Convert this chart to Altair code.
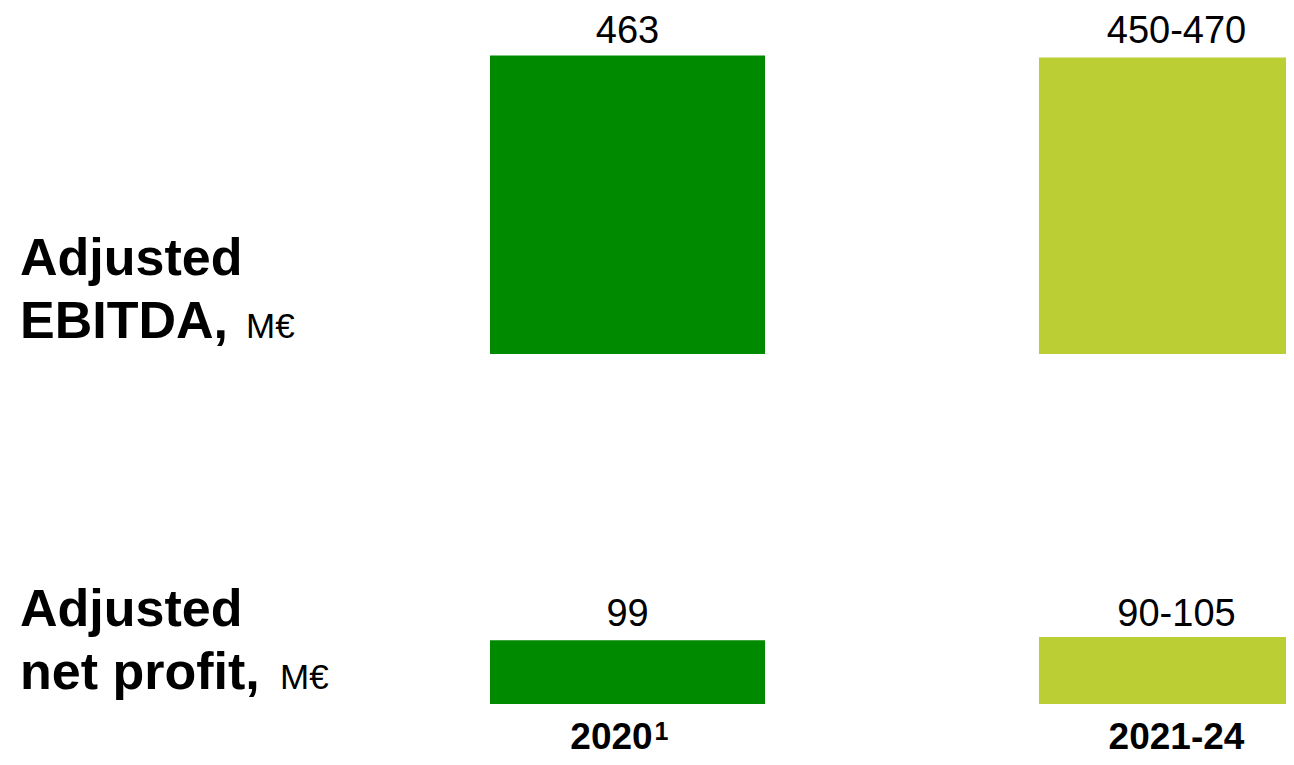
import altair as alt
import pandas as pd

# ---- data ----
periods = ["2020", "2021-24"]
footnotes = ["1", ""]
ebitda_values = [463, 460]
ebitda_labels = ["463", "450-470"]
profit_values = [99, 104]
profit_labels = ["99", "90-105"]
colors = ["#008A00", "#BBCE34"]
ebitda_title = ["Adjusted", "EBITDA,"]
profit_title = ["Adjusted", "net profit,"]
unit = "M€"

FONT = "Liberation Sans"
PX = 298.5 / 463.0          # pixels per M€ (shared by both rows)
W = 1278
H1 = 346
H2 = 403
BASE2 = 350                  # bottom row: bar baseline distance from the row top

x_scale = alt.Scale(domain=periods, range=[482, 1306], paddingInner=0.499, paddingOuter=0)
color_scale = alt.Scale(domain=periods, range=colors)


def text_layer(txt, size, weight, x, y):
    return alt.Chart(pd.DataFrame({"t": [txt]})).mark_text(
        font=FONT, fontSize=size, fontWeight=weight, color="black", align="left", baseline="alphabetic"
    ).encode(text="t:N", x=alt.value(x), y=alt.value(y))


def row(values, labels, title, H, y_domain, dy_val, title_y, unit_x, show_years):
    df = pd.DataFrame({"period": periods, "value": values, "label": labels, "note": footnotes})
    y_scale = alt.Scale(domain=y_domain, nice=False, zero=False)
    base = alt.Chart(df).encode(x=alt.X("period:N", scale=x_scale, sort=periods, axis=None))
    bars = base.mark_bar(clip=True).encode(
        y=alt.Y("value:Q", scale=y_scale, axis=None),
        y2=alt.datum(0),
        color=alt.Color("period:N", scale=color_scale, legend=None),
    )
    vals = base.transform_joinaggregate(top="max(value)").mark_text(
        font=FONT, fontSize=38, color="black", baseline="alphabetic", dy=dy_val
    ).encode(y=alt.Y("top:Q", scale=y_scale, axis=None), text="label:N")

    layers = [bars, vals,
              text_layer(title[0], 52, "bold", 12, title_y[0]),
              text_layer(title[1], 52, "bold", 12, title_y[1]),
              text_layer(unit, 35, "normal", unit_x, title_y[1])]

    if show_years:
        year_style = dict(font=FONT, fontSize=37, fontWeight="bold", color="black",
                          baseline="alphabetic")
        plain = base.transform_filter("datum.note == ''").mark_text(**year_style).encode(
            text="period:N", y=alt.value(H - 8))
        noted = base.transform_filter("datum.note != ''").mark_text(dx=-16, **year_style).encode(
            text="period:N", y=alt.value(H - 8))
        sup = base.transform_filter("datum.note != ''").mark_text(
            font=FONT, fontSize=25, fontWeight="bold", color="black", baseline="alphabetic",
            align="left", dx=27, dy=-9
        ).encode(text="note:N", y=alt.value(H - 8))
        layers += [plain, noted, sup]

    return alt.layer(*layers).properties(width=W, height=H)


top = row(ebitda_values, ebitda_labels, ebitda_title, H1, [0, H1 / PX], -13, (267, 330), 238, False)
bottom = row(profit_values, profit_labels, profit_title, H2,
             [-(H2 - BASE2) / PX, BASE2 / PX], -11, (272, 335), 272, True)

chart = alt.vconcat(top, bottom, spacing=0, bounds="flush").properties(
    padding=0, background="white"
).configure_view(stroke=None)

chart.save("out.html", embed_options={"renderer": "svg", "actions": False})
